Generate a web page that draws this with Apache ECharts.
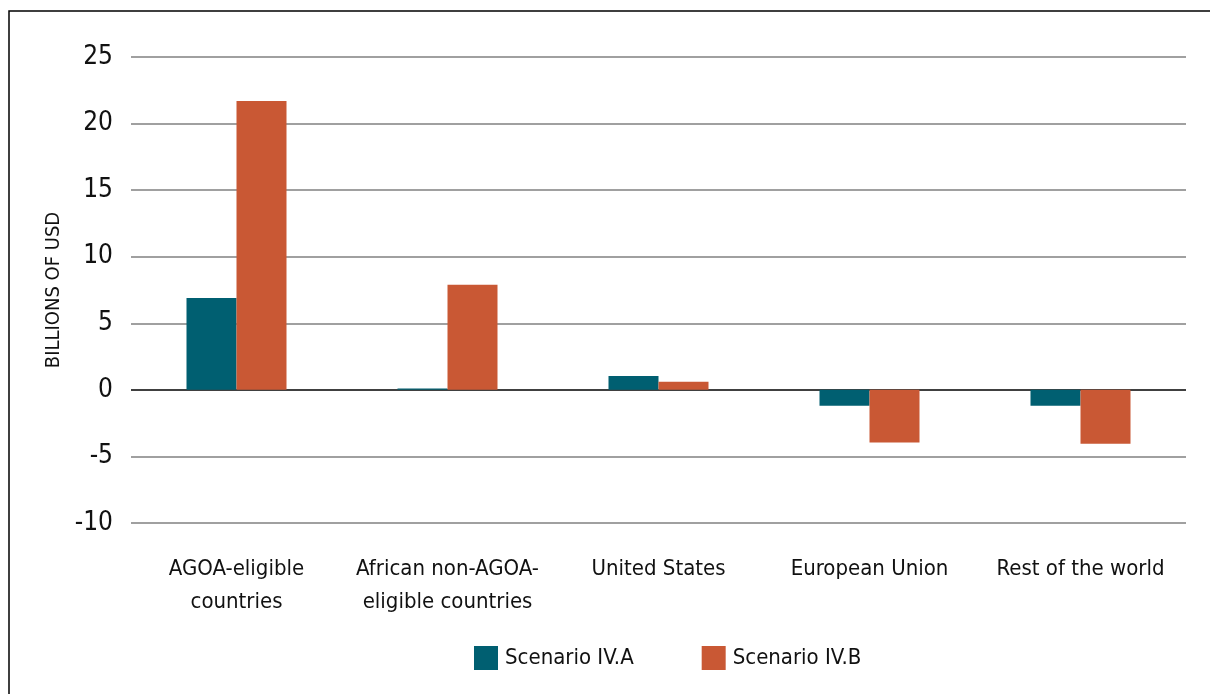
<!DOCTYPE html>
<html>
<head>
<meta charset="utf-8">
<script src="https://cdn.jsdelivr.net/npm/echarts@6/dist/echarts.min.js"></script>
<style>
html,body{margin:0;padding:0;background:#fff;}
#chart{width:1210px;height:694px;}
</style>
</head>
<body>
<div id="chart"></div>
<script>
const categories = ['AGOA-eligible\ncountries', 'African non-AGOA-\neligible countries', 'United States', 'European Union', 'Rest of the world'];
const scenarioA = [6.9, 0.1, 1.05, -1.2, -1.2];
const scenarioB = [21.7, 7.9, 0.6, -3.95, -4.05];
const seriesNames = ['Scenario IV.A', 'Scenario IV.B'];
const yTicks = { min: -10, max: 25, interval: 5 };

const FONT = "'Liberation Sans Narrow', 'DejaVu Sans Condensed', 'Roboto', sans-serif";
const chart = echarts.init(document.getElementById('chart'), null, { renderer: 'canvas' });
chart.setOption({
  animation: false,
  backgroundColor: '#fff',
  graphic: [{
    type: 'rect',
    shape: { x: 9, y: 11, width: 1400, height: 1000 },
    style: { fill: 'none', stroke: '#000', lineWidth: 1.5 },
    silent: true, z: -1
  }],
  grid: { left: 131, right: 24, top: 57, bottom: 171, containLabel: false },
  legend: {
    top: 641, left: 469,
    itemWidth: 24, itemHeight: 24, itemGap: 68,
    icon: 'rect',
    textStyle: { fontFamily: FONT, fontSize: 22, color: '#111', padding: [0, 0, 0, 2] },
    data: seriesNames
  },
  xAxis: {
    type: 'category',
    data: categories,
    axisLine: { show: false, onZero: false },
    axisTick: { show: false },
    axisLabel: { fontFamily: FONT, fontSize: 22, color: '#111', margin: 30, lineHeight: 33, interval: 0 }
  },
  yAxis: {
    type: 'value',
    min: yTicks.min, max: yTicks.max, interval: yTicks.interval,
    name: 'BILLIONS OF USD',
    nameLocation: 'middle',
    nameRotate: 90,
    nameGap: 63,
    nameTextStyle: { fontFamily: FONT, fontSize: 20, color: '#111' },
    axisLine: { show: false },
    axisTick: { show: false },
    axisLabel: { fontFamily: FONT, fontSize: 26, color: '#111', margin: 18 },
    splitLine: { lineStyle: { color: '#808080', width: 1.5 } }
  },
  series: [
    {
      name: seriesNames[0], type: 'bar', data: scenarioA,
      barWidth: 50, barGap: '0%',
      itemStyle: { color: '#005F71' },
      markLine: {
        silent: true, symbol: 'none', label: { show: false },
        lineStyle: { color: '#404040', width: 2, type: 'solid' },
        data: [{ yAxis: 0 }], z: 1
      }
    },
    {
      name: seriesNames[1], type: 'bar', data: scenarioB,
      barWidth: 50, barGap: '0%',
      itemStyle: { color: '#C95834' }
    }
  ]
});
</script>
</body>
</html>
